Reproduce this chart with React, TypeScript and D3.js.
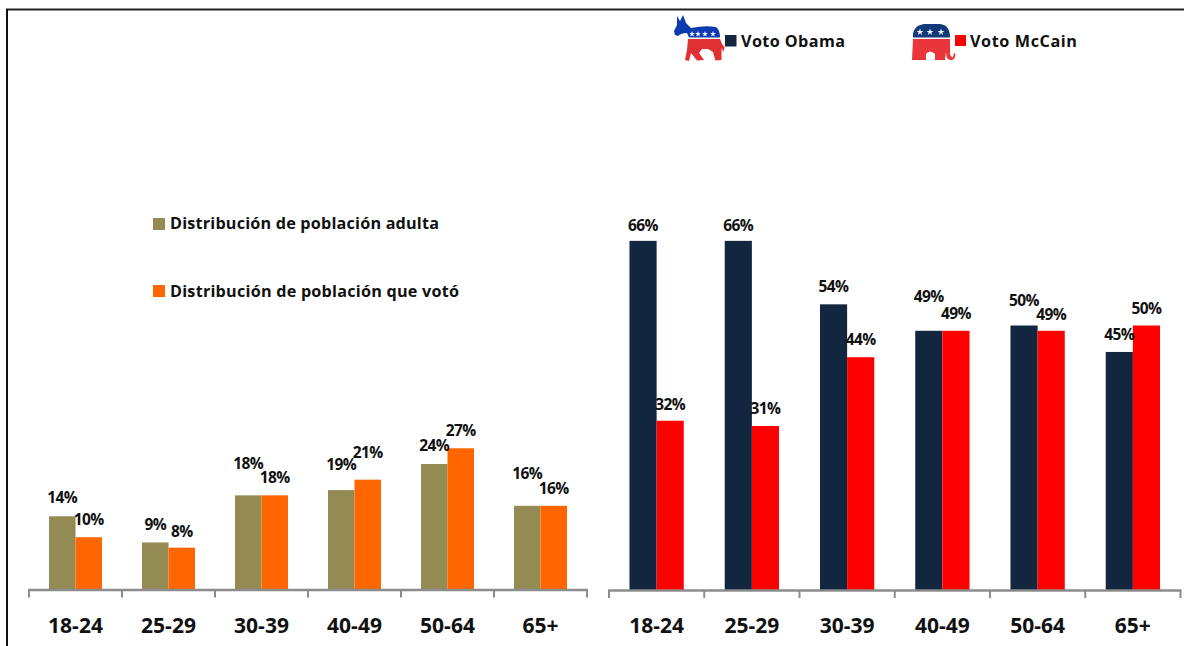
import { useEffect, useRef } from "react";
import * as d3 from "d3";

const ageGroups = ["18-24", "25-29", "30-39", "40-49", "50-64", "65+"];

// Left panel: share of population
const adultPopulation = [14, 9, 18, 19, 24, 16];
const votedPopulation = [10, 8, 18, 21, 27, 16];

// Right panel: vote by candidate
const obamaVote = [66, 66, 54, 49, 50, 45];
const mccainVote = [32, 31, 44, 49, 49, 50];

// Extra lift of the value labels, so they do not collide
const adultLift = [1, 0, 14, 8, 1, 15];
const votedLift = [0, -1, 0, 10, 0, 0];
const obamaLift = [-2, -2, 0, 17, 8, 0];
const mccainLift = [-1, 0, 0, 0, -1, 0];

const FONT = "'Open Sans', sans-serif";
const OLIVE = "#948a54";
const ORANGE = "#ff6600";
const NAVY = "#132640";
const RED = "#ff0000";
const AXIS_GREY = "#8c8c8c";

interface Panel {
  range: [number, number];
  baseline: number;
  pxPerPoint: number;
  series: { values: number[]; lift: number[]; color: string }[];
}

const panels: Panel[] = [
  {
    range: [29, 587],
    baseline: 589.5,
    pxPerPoint: 5.23,
    series: [
      { values: adultPopulation, lift: adultLift, color: OLIVE },
      { values: votedPopulation, lift: votedLift, color: ORANGE },
    ],
  },
  {
    range: [609, 1180.5],
    baseline: 590,
    pxPerPoint: 5.29,
    series: [
      { values: obamaVote, lift: obamaLift, color: NAVY },
      { values: mccainVote, lift: mccainLift, color: RED },
    ],
  },
];

const legendItems = [
  { label: "Voto Obama", color: NAVY, x: 725, y: 35, size: 11.5, textX: 741, textY: 46.5, textLength: 104 },
  { label: "Voto McCain", color: RED, x: 955, y: 35, size: 11, textX: 970, textY: 46.5, textLength: 107 },
  { label: "Distribución de población adulta", color: OLIVE, x: 153, y: 218, size: 12, textX: 170, textY: 228.5, textLength: 269 },
  { label: "Distribución de población que votó", color: ORANGE, x: 153, y: 285, size: 12, textX: 170, textY: 296.5, textLength: 289 },
];

const star = (r: number) => d3.symbol().type(d3.symbolStar).size(r * r * 3)() as string;

function drawPanel(svg: d3.Selection<SVGSVGElement, unknown, null, undefined>, panel: Panel) {
  const x = d3.scaleBand<string>().domain(ageGroups).range(panel.range).paddingInner(0.43).paddingOuter(0.215);
  const inner = d3
    .scaleBand<number>()
    .domain(d3.range(panel.series.length))
    .range([0, x.bandwidth()]);
  const y = d3
    .scaleLinear()
    .domain([0, 100])
    .range([panel.baseline, panel.baseline - panel.pxPerPoint * 100]);

  const g = svg.append("g");

  panel.series.forEach((s, i) => {
    g.selectAll(null)
      .data(s.values)
      .enter()
      .append("rect")
      .attr("x", (_, j) => (x(ageGroups[j]) as number) + (inner(i) as number))
      .attr("y", (d) => y(d))
      .attr("width", inner.bandwidth())
      .attr("height", (d) => panel.baseline - y(d))
      .attr("fill", s.color);
  });

  // Axis line with ticks on the category edges
  const edges = d3.range(ageGroups.length + 1).map((k) => panel.range[0] + k * x.step());
  g.append("line")
    .attr("x1", panel.range[0] - 1)
    .attr("x2", panel.range[1] + 1)
    .attr("y1", panel.baseline + 0.5)
    .attr("y2", panel.baseline + 0.5)
    .attr("stroke", AXIS_GREY)
    .attr("stroke-width", 2.5);
  g.selectAll(null)
    .data(edges)
    .enter()
    .append("line")
    .attr("x1", (d) => d)
    .attr("x2", (d) => d)
    .attr("y1", panel.baseline)
    .attr("y2", panel.baseline + 8)
    .attr("stroke", AXIS_GREY)
    .attr("stroke-width", 2);

  // Category labels
  const axis = g
    .append("g")
    .attr("transform", `translate(0,${panel.baseline + 26})`)
    .call(d3.axisBottom(x).tickSize(0));
  axis.select(".domain").remove();
  axis
    .selectAll("text")
    .attr("dy", 0)
    .attr("y", 17)
    .attr("fill", "#111")
    .style("font-family", FONT)
    .style("font-weight", 700)
    .style("font-size", "21px");

  // Value labels
  panel.series.forEach((s, i) => {
    g.selectAll(null)
      .data(s.values)
      .enter()
      .append("text")
      .attr("x", (_, j) => (x(ageGroups[j]) as number) + (inner(i) as number) + inner.bandwidth() / 2)
      .attr("y", (d, j) => y(d) - 12 - s.lift[j])
      .attr("text-anchor", "middle")
      .attr("fill", "#111")
      .style("font-family", FONT)
      .style("font-weight", 700)
      .style("font-size", "15.5px")
      .style("letter-spacing", "-0.6px")
      .text((d) => `${d}%`);
  });
}

function Donkey() {
  return (
    <g>
      <path
        d="M677,16 L680,21 L683,15 L686,23 L691,28 Q705,25 716,27 Q720,30 720,37.5 L689,37.5 L687,33 Q681,33 678,36 L675,35 L674,31 L677,25 Z"
        fill="#0c3ab0"
      />
      {[692, 698, 705, 713].map((cx) => (
        <path key={cx} d={star(1.9)} transform={`translate(${cx},34)`} fill="#fff" />
      ))}
      <path
        d="M688,39 L720,39 L722,44 L724.5,47 L723.5,52 L721.5,48 L721.5,60 L715.5,60.5 L713,52 L708,49 L702,49 L699,53 L704,60 L697,60.5 L691,53 L689,61 L685,60 L687,50 Z"
        fill="#e03034"
      />
    </g>
  );
}

function Elephant() {
  return (
    <g>
      <path d="M913,37.5 Q912,26 924,24 L940,24 Q950,25 950,37.5 Z" fill="#123a78" />
      {[920, 930, 941].map((cx) => (
        <path key={cx} d={star(2.2)} transform={`translate(${cx},32)`} fill="#fff" />
      ))}
      <path
        d="M913,39 L950,39 L950,54 Q951,58 953,57 L954,53 L955.5,54 Q955,61 950,60 Q946,59 946,52 L945,60 L935,60 L935,54 Q930,49 926,54 L926,60 L912,60 Z"
        fill="#e8363a"
      />
    </g>
  );
}

export default function App() {
  const svgRef = useRef<SVGSVGElement>(null);

  useEffect(() => {
    if (!svgRef.current) return;
    const svg = d3.select(svgRef.current);
    svg.selectAll("g.panels").remove();
    const root = svg.append("g").attr("class", "panels") as any;
    panels.forEach((p) => drawPanel(root, p));
  }, []);

  return (
    <svg
      ref={svgRef}
      width={1184}
      height={646}
      style={{ position: "absolute", left: 0, top: 0, display: "block", background: "#fff" }}
    >
      {/* Frame */}
      <line x1={6} x2={1184} y1={9.5} y2={9.5} stroke="#222" strokeWidth={2} />
      <line x1={7} x2={7} y1={9} y2={646} stroke="#111" strokeWidth={2} />

      <Donkey />
      <Elephant />

      {legendItems.map((d) => (
        <g key={d.label}>
          <rect x={d.x} y={d.y} width={d.size} height={d.size} fill={d.color} />
          <text
            x={d.textX}
            y={d.textY}
            textLength={d.textLength}
            lengthAdjust="spacing"
            fill="#111"
            style={{ fontFamily: FONT, fontWeight: 700, fontSize: "16.2px" }}
          >
            {d.label}
          </text>
        </g>
      ))}
    </svg>
  );
}
